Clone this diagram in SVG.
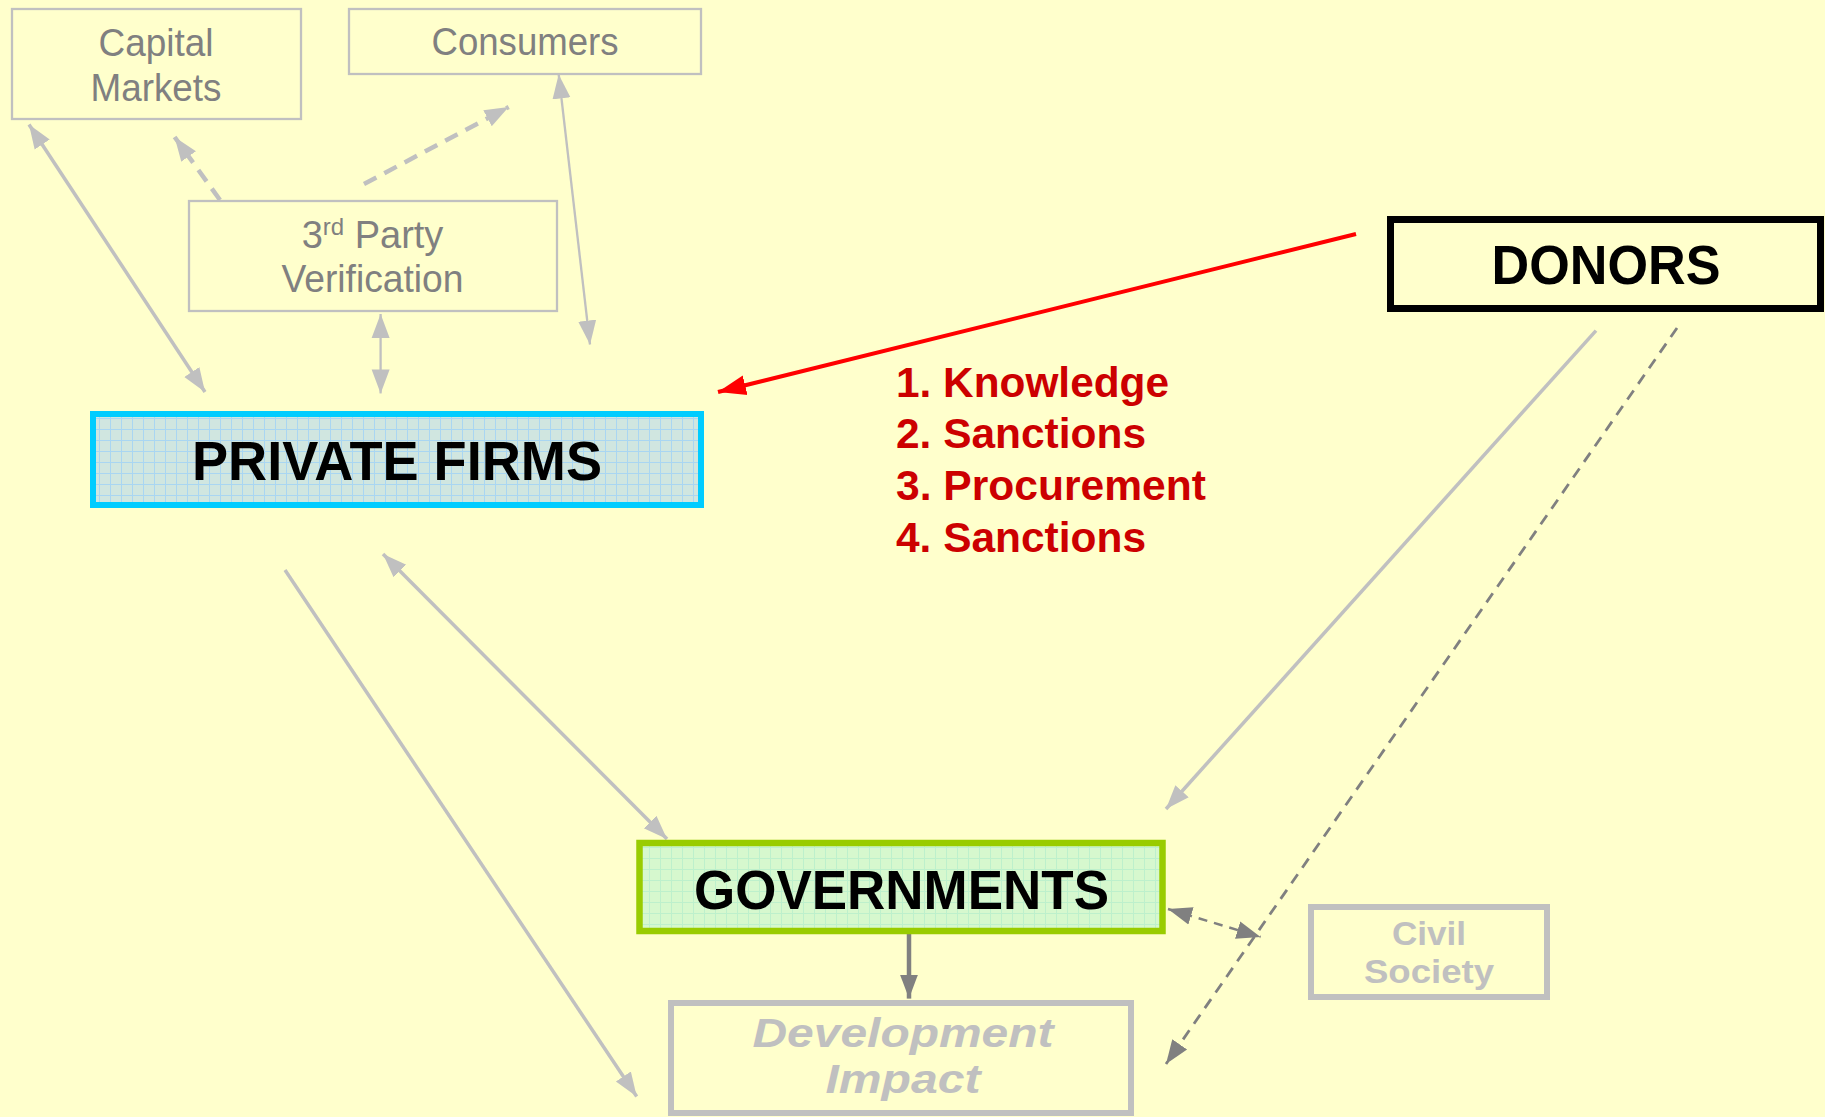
<svg xmlns="http://www.w3.org/2000/svg" width="1825" height="1117" viewBox="0 0 1825 1117">
<style>
.lbl{font-family:"Liberation Sans",Arial,sans-serif;font-size:38px;fill:#808080;text-anchor:middle}
.big{font-family:"Liberation Sans",Arial,sans-serif;font-weight:bold;font-size:55px;fill:#000;text-anchor:middle}
.gry{font-family:"Liberation Sans",Arial,sans-serif;font-weight:bold;fill:#C0C0C0;text-anchor:middle}
.red{font-family:"Liberation Sans",Arial,sans-serif;font-weight:bold;font-size:42px;fill:#CC0000}
.thin{fill:none;stroke:#C0C0C0;stroke-width:2.3}
.thick{fill:none;stroke:#C0C0C0;stroke-width:6}
.cl{fill:none;stroke:#C0C0C0;stroke-width:3.5}
.cd{fill:none;stroke:#C0C0C0;stroke-width:4.5;stroke-dasharray:14 9}
.ct{fill:none;stroke:#C0C0C0;stroke-width:2.3}
.dk{fill:none;stroke:#808080}
</style>
<defs>
<marker id="ag" markerUnits="userSpaceOnUse" markerWidth="26" markerHeight="20" refX="24" refY="9" orient="auto-start-reverse" viewBox="0 0 26 18">
<path d="M0,0 L24,9 L0,18 z" fill="#C0C0C0"/>
</marker>
<marker id="ad" markerUnits="userSpaceOnUse" markerWidth="26" markerHeight="20" refX="24" refY="9" orient="auto-start-reverse" viewBox="0 0 26 18">
<path d="M0,0 L24,9 L0,18 z" fill="#808080"/>
</marker>
<marker id="ar" markerUnits="userSpaceOnUse" markerWidth="30" markerHeight="22" refX="28" refY="10" orient="auto" viewBox="0 0 30 20">
<path d="M0,0 L28,10 L0,20 z" fill="#FF0000"/>
</marker>
<pattern id="gridB" width="11" height="11" patternUnits="userSpaceOnUse">
<rect width="11" height="11" fill="#D0E6E0"/>
<path d="M0,0.5 H11 M0.5,0 V11" stroke="#A9D6F2" stroke-width="1"/>
</pattern>
<pattern id="gridG" width="11" height="11" patternUnits="userSpaceOnUse">
<rect width="11" height="11" fill="#D6F8CE"/>
<path d="M0,0.5 H11 M0.5,0 V11" stroke="#BDF0CC" stroke-width="1"/>
</pattern>
</defs>
<rect x="0" y="0" width="1825" height="1117" fill="#FFFFCC"/>

<g id="connectors">
<line class="cl" x1="29" y1="124.5" x2="205" y2="392" marker-start="url(#ag)" marker-end="url(#ag)"/>
<line class="cd" x1="220" y1="200" x2="174.6" y2="137" marker-end="url(#ag)"/>
<line class="cd" x1="364" y1="184" x2="508.7" y2="107" marker-end="url(#ag)"/>
<line class="ct" x1="558.7" y1="74.5" x2="590" y2="344.5" marker-start="url(#ag)" marker-end="url(#ag)"/>
<line class="ct" x1="380.6" y1="314" x2="380.6" y2="393.4" marker-start="url(#ag)" marker-end="url(#ag)"/>
<line class="cl" x1="285" y1="570" x2="636.7" y2="1096.5" marker-end="url(#ag)"/>
<line class="cl" x1="383" y1="554" x2="667" y2="839" marker-start="url(#ag)" marker-end="url(#ag)"/>
<line class="cl" x1="1596" y1="330.6" x2="1166" y2="809" marker-end="url(#ag)"/>
<line class="dk" stroke-width="2.8" stroke-dasharray="11 8" x1="1677" y1="328" x2="1166" y2="1064" marker-end="url(#ad)"/>
<line class="dk" stroke-width="2.5" stroke-dasharray="9 7" x1="1168" y1="909" x2="1260.6" y2="937" marker-start="url(#ad)" marker-end="url(#ad)"/>
<line class="dk" stroke-width="4.5" x1="909" y1="925" x2="909" y2="998.6" marker-end="url(#ad)"/>
<line stroke="#FF0000" stroke-width="4" x1="1356" y1="234" x2="718" y2="392" marker-end="url(#ar)"/>
</g>

<g id="capital-markets">
<rect class="thin" x="12" y="9" width="289" height="110"/>
<text class="lbl" x="156" y="56" textLength="115" lengthAdjust="spacingAndGlyphs">Capital</text>
<text class="lbl" x="156" y="101" textLength="131" lengthAdjust="spacingAndGlyphs">Markets</text>
</g>

<g id="consumers">
<rect class="thin" x="349" y="9" width="352" height="65"/>
<text class="lbl" x="525" y="55" textLength="187" lengthAdjust="spacingAndGlyphs">Consumers</text>
</g>

<g id="third-party-verification">
<rect class="thin" x="189" y="201" width="368" height="110"/>
<text class="lbl" x="372.5" y="248">3<tspan font-size="24" dy="-13">rd</tspan><tspan dy="13"> Party</tspan></text>
<text class="lbl" x="372.5" y="292" textLength="182" lengthAdjust="spacingAndGlyphs">Verification</text>
</g>

<g id="private-firms">
<rect x="93" y="414" width="608" height="91" fill="url(#gridB)" stroke="#00CCFF" stroke-width="6"/>
<text class="big" x="397" y="480" textLength="410" lengthAdjust="spacingAndGlyphs">PRIVATE FIRMS</text>
</g>

<g id="donors">
<rect x="1390.5" y="219.5" width="430" height="89" fill="#FFFFCC" stroke="#000" stroke-width="7"/>
<text class="big" x="1606" y="284" textLength="229" lengthAdjust="spacingAndGlyphs">DONORS</text>
</g>

<g id="knowledge-list">
<text class="red" x="896" y="397" textLength="273" lengthAdjust="spacingAndGlyphs">1. Knowledge</text>
<text class="red" x="896" y="448" textLength="250" lengthAdjust="spacingAndGlyphs">2. Sanctions</text>
<text class="red" x="896" y="500" textLength="310" lengthAdjust="spacingAndGlyphs">3. Procurement</text>
<text class="red" x="896" y="552" textLength="250" lengthAdjust="spacingAndGlyphs">4. Sanctions</text>
</g>

<g id="governments">
<rect x="639.5" y="843" width="523" height="88" fill="url(#gridG)" stroke="#99CC00" stroke-width="6.5"/>
<text class="big" x="901.5" y="909" textLength="415" lengthAdjust="spacingAndGlyphs">GOVERNMENTS</text>
</g>

<g id="civil-society">
<rect class="thick" x="1311" y="907" width="236" height="90"/>
<text class="gry" font-size="34" x="1429" y="945" textLength="74" lengthAdjust="spacingAndGlyphs">Civil</text>
<text class="gry" font-size="34" x="1429" y="983" textLength="130" lengthAdjust="spacingAndGlyphs">Society</text>
</g>

<g id="development-impact">
<rect class="thick" x="671" y="1003" width="460" height="110"/>
<text class="gry" font-size="41" font-style="italic" x="903" y="1047" textLength="301" lengthAdjust="spacingAndGlyphs">Development</text>
<text class="gry" font-size="41" font-style="italic" x="903" y="1093" textLength="155" lengthAdjust="spacingAndGlyphs">Impact</text>
</g>
</svg>
